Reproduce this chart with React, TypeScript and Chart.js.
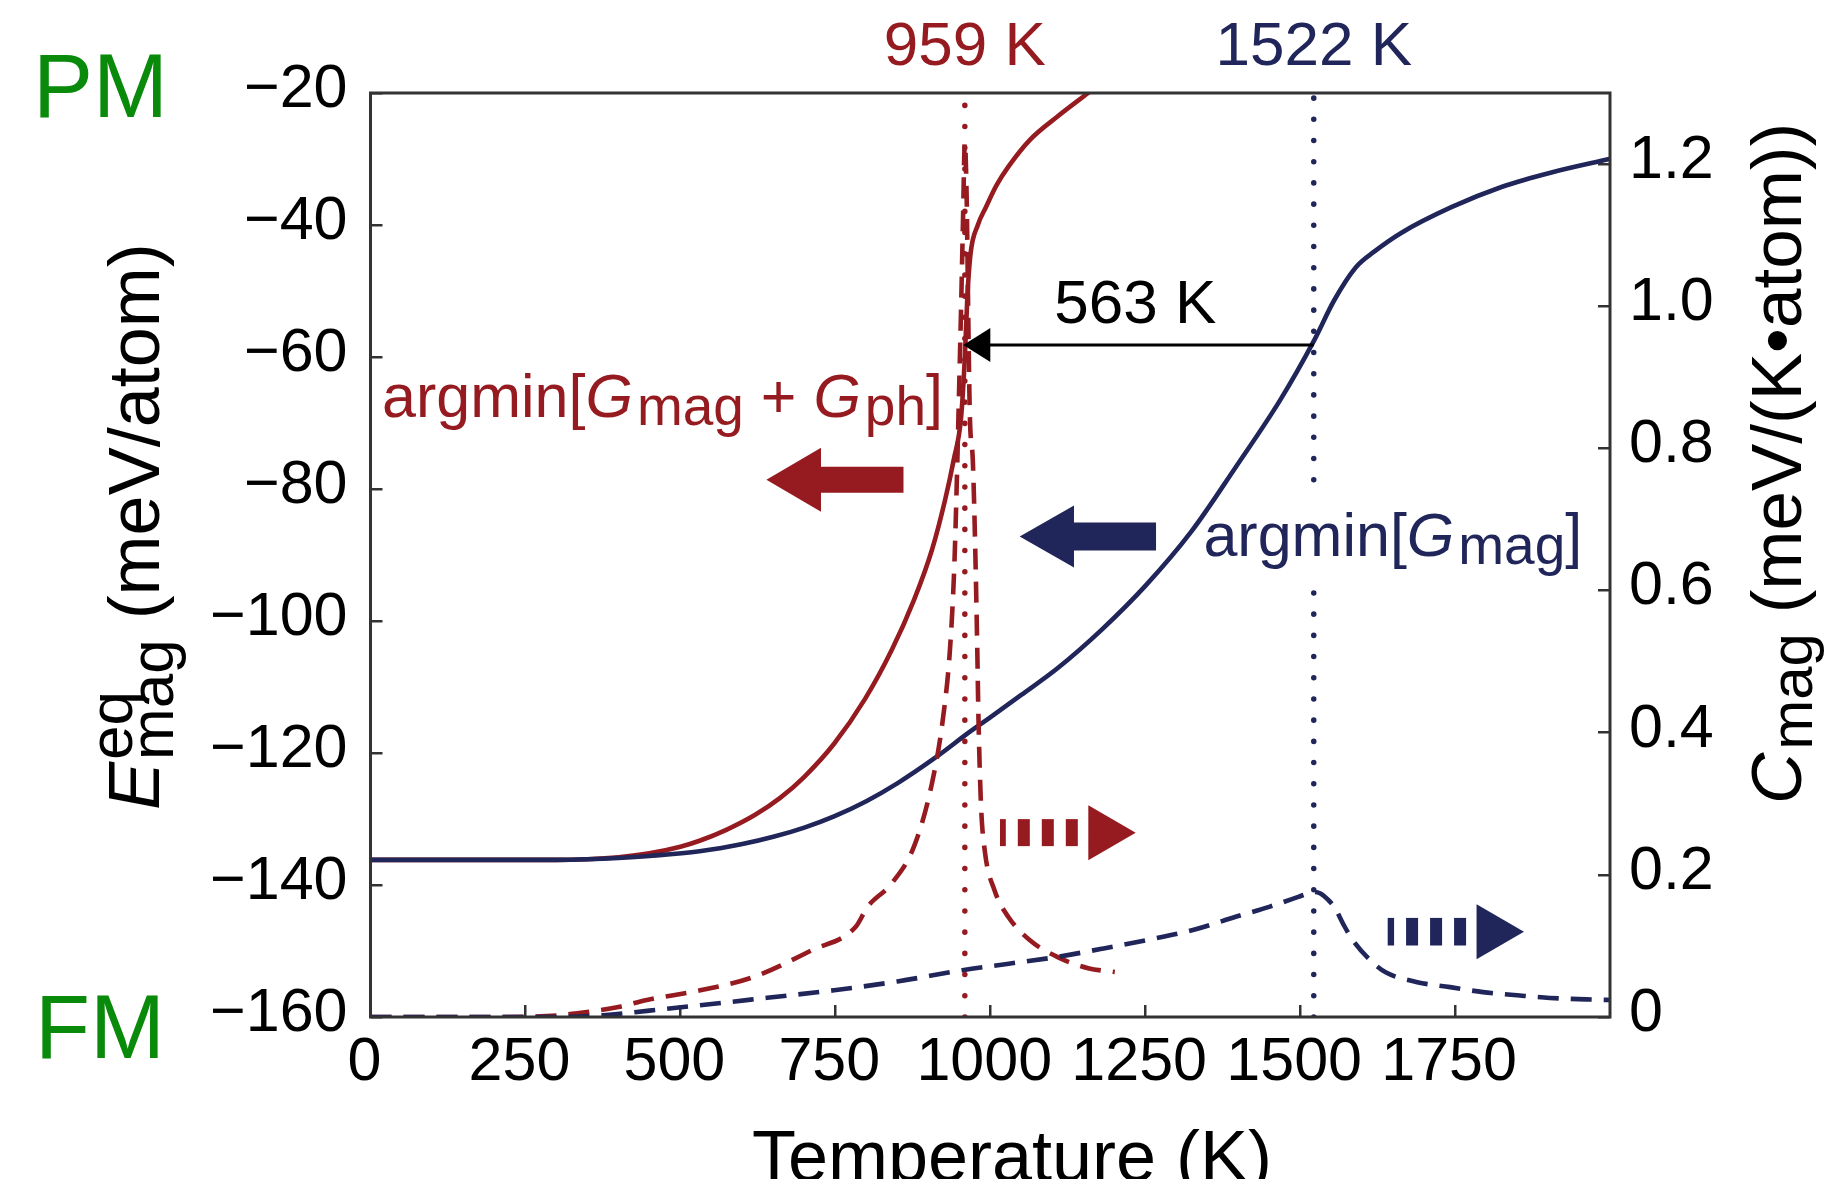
import React, { useEffect, useRef } from 'react';
import { Chart, registerables } from 'chart.js';

Chart.register(...registerables);

// ---------------- data ----------------
const T_RED_SOLID = [0, 100, 200, 300, 350, 400, 450, 500, 531, 575, 620, 661, 700, 748, 798, 841, 877, 906, 927, 941, 953, 959, 963, 968, 980, 993, 1010, 1029, 1064, 1108, 1158, 1200];
const E_RED_SOLID = [-136.2, -136.2, -136.2, -136.2, -136.1, -135.8, -135.2, -134.2, -133.3, -131.6, -129.4, -126.8, -123.6, -118.6, -111.8, -104.4, -96.8, -89.2, -81.7, -75.6, -69.1, -60.0, -51.0, -44.5, -40.0, -37.3, -34.0, -31.2, -27.1, -23.6, -20.0, -17.0];

const T_BLUE_SOLID = [0, 100, 200, 300, 350, 400, 450, 531, 600, 650, 700, 748, 800, 850, 913, 964, 1000, 1050, 1108, 1180, 1251, 1324, 1396, 1468, 1522, 1555, 1590, 1620, 1663, 1744, 1826, 1907, 1999];
const E_BLUE_SOLID = [-136.2, -136.2, -136.2, -136.2, -136.1, -135.9, -135.6, -134.9, -133.8, -132.7, -131.3, -129.6, -127.3, -124.6, -120.6, -117.0, -114.6, -111.2, -107.2, -101.3, -94.6, -86.5, -76.7, -66.5, -57.6, -51.4, -46.4, -44.0, -41.2, -37.3, -34.2, -32.0, -30.0];

const T_RED_DASHED = [0, 200, 300, 331, 400, 446, 532, 618, 712, 783, 802, 841, 877, 906, 924, 935, 942, 946, 950, 953, 956, 959, 962, 964, 967, 972, 976, 979, 981, 985, 991, 1007, 1029, 1064, 1108, 1158, 1201];
const C_RED_DASHED = [0, 0, 0.002, 0.005, 0.014, 0.024, 0.0375, 0.0563, 0.094, 0.127, 0.155, 0.188, 0.24, 0.329, 0.422, 0.517, 0.634, 0.752, 0.892, 1.0, 1.12, 1.23, 1.15, 1.02, 0.85, 0.78, 0.65, 0.52, 0.42, 0.3, 0.235, 0.178, 0.141, 0.108, 0.0845, 0.0686, 0.0634];

const T_BLUE_DASHED = [0, 300, 375, 450, 532, 640, 748, 850, 955, 1030, 1108, 1180, 1251, 1330, 1396, 1450, 1497, 1510, 1522, 1532, 1545, 1555, 1570, 1585, 1613, 1638, 1689, 1742, 1795, 1850, 1903, 1973, 1999];
const C_BLUE_DASHED = [0, 0, 0.0024, 0.009, 0.0165, 0.027, 0.0376, 0.05, 0.0658, 0.075, 0.0845, 0.096, 0.108, 0.123, 0.141, 0.155, 0.169, 0.173, 0.176, 0.174, 0.165, 0.155, 0.13, 0.108, 0.08, 0.063, 0.049, 0.042, 0.035, 0.0306, 0.0268, 0.0245, 0.024];

// transition temperatures (K) and vertical marker lines
const TC_RED = 959;
const TC_BLUE = 1522;
const VLINE_RED_E = [-160, -20];
const VLINE_BLUE_E = [-160, -95, null, -78.6, -20];
const SHIFT_E = -58.2;

const X_TICKS = [0, 250, 500, 750, 1000, 1250, 1500, 1750];
const Y_TICKS = [-160, -140, -120, -100, -80, -60, -40, -20];
const Y1_TICKS = [0, 0.2, 0.4, 0.6, 0.8, 1.0, 1.2];

// ---------------- style ----------------
const RED = '#961B20';
const NAVY = '#20255A';
const GREEN = '#0A8A0A';
const FRAME = '#333333';
const FONT = "'Liberation Sans', Arial, Helvetica, sans-serif";

// annotation anchors (data coordinates)
const ANN = {
  redLabel: { t: 18.6, e: -69.1 },
  blueLabel: { t: 1344, e: -90.15 },
  shiftLabel: { t: 1234, e: -54.9 },
  redArrow: { tail: 860, tip: 638.8, e: -78.6 },
  blueArrow: { tail: 1267.5, tip: 1047.5, e: -87.2 },
  redDashArrow: { tail: 1015.7, tip: 1234.7, c: 0.2594 },
  blueDashArrow: { tail: 1641.3, tip: 1861.2, c: 0.12 },
};

type Seg = { t: string; size: number; italic?: boolean; dy?: number; gap?: number; stack?: boolean };
const fontStr = (s: Seg) => `${s.italic ? 'italic ' : ''}${s.size}px ${FONT}`;

function segsWidth(ctx: CanvasRenderingContext2D, segs: Seg[]) {
  let w = 0;
  for (const s of segs) {
    ctx.font = fontStr(s);
    if (!s.stack) w += ctx.measureText(s.t).width + (s.gap || 0);
  }
  return w;
}

function drawSegs(ctx: CanvasRenderingContext2D, segs: Seg[], x: number, y: number, color: string, align: 'left' | 'center' = 'left') {
  ctx.save();
  ctx.fillStyle = color;
  ctx.textBaseline = 'alphabetic';
  ctx.textAlign = 'left';
  let cx = align === 'center' ? x - segsWidth(ctx, segs) / 2 : x;
  for (const s of segs) {
    ctx.font = fontStr(s);
    ctx.fillText(s.t, cx, y + (s.dy || 0));
    if (!s.stack) cx += ctx.measureText(s.t).width + (s.gap || 0);
  }
  ctx.restore();
}

function fatArrow(ctx: CanvasRenderingContext2D, xTail: number, xTip: number, yc: number, color: string,
  headLen: number, headHalf: number, shaftHalf: number, dashed: boolean) {
  const sgn = xTip > xTail ? 1 : -1;
  const headBack = xTip - sgn * headLen;
  ctx.save();
  ctx.fillStyle = color;
  if (!dashed) {
    ctx.beginPath();
    ctx.moveTo(xTail, yc - shaftHalf);
    ctx.lineTo(headBack, yc - shaftHalf);
    ctx.lineTo(headBack, yc - headHalf);
    ctx.lineTo(xTip, yc);
    ctx.lineTo(headBack, yc + headHalf);
    ctx.lineTo(headBack, yc + shaftHalf);
    ctx.lineTo(xTail, yc + shaftHalf);
    ctx.closePath();
    ctx.fill();
  } else {
    ctx.beginPath();
    ctx.moveTo(headBack, yc - headHalf);
    ctx.lineTo(xTip, yc);
    ctx.lineTo(headBack, yc + headHalf);
    ctx.closePath();
    ctx.fill();
    const dash = 12, period = 24;
    let end = headBack - sgn * 10.5;
    for (let k = 0; k < 20; k++) {
      const a = end - sgn * dash;
      const lo = Math.min(a, end), hi = Math.max(a, end);
      const cLo = Math.max(lo, Math.min(xTail, headBack));
      const cHi = Math.min(hi, Math.max(xTail, headBack));
      if (cHi > cLo) ctx.fillRect(cLo, yc - shaftHalf, cHi - cLo, shaftHalf * 2);
      end -= sgn * period;
      if ((sgn > 0 && end < xTail) || (sgn < 0 && end > xTail)) break;
    }
  }
  ctx.restore();
}

const overlay = {
  id: 'overlay',
  afterDatasetsDraw(chart: any) {
    const { ctx, chartArea: ca, scales } = chart;
    const xs = scales.x, ys = scales.y, y1 = scales.y1;
    const X = (v: number) => xs.getPixelForValue(v);
    const Y = (v: number) => ys.getPixelForValue(v);
    const Y1 = (v: number) => y1.getPixelForValue(v);

    ctx.save();
    // frame
    ctx.strokeStyle = FRAME;
    ctx.lineWidth = 3;
    ctx.strokeRect(ca.left, ca.top, ca.right - ca.left, ca.bottom - ca.top);

    // 563 K shift arrow
    const xa = X(TC_BLUE), xb = X(TC_RED) - 1.5, ya = Y(SHIFT_E);
    ctx.strokeStyle = '#000';
    ctx.fillStyle = '#000';
    ctx.lineWidth = 3;
    ctx.beginPath();
    ctx.moveTo(xa, ya);
    ctx.lineTo(xb + 20, ya);
    ctx.stroke();
    ctx.beginPath();
    ctx.moveTo(xb, ya);
    ctx.lineTo(xb + 27, ya - 17);
    ctx.lineTo(xb + 27, ya + 17);
    ctx.closePath();
    ctx.fill();

    // fat arrows
    fatArrow(ctx, X(ANN.redArrow.tail), X(ANN.redArrow.tip), Y(ANN.redArrow.e), RED, 54.6, 32, 13, false);
    fatArrow(ctx, X(ANN.blueArrow.tail), X(ANN.blueArrow.tip), Y(ANN.blueArrow.e), NAVY, 54.3, 31, 14, false);
    fatArrow(ctx, X(ANN.redDashArrow.tail), X(ANN.redDashArrow.tip), Y1(ANN.redDashArrow.c), RED, 47.4, 27.5, 13.5, true);
    fatArrow(ctx, X(ANN.blueDashArrow.tail), X(ANN.blueDashArrow.tip), Y1(ANN.blueDashArrow.c), NAVY, 47.4, 27.5, 13.8, true);

    // labels
    drawSegs(ctx, [{ t: `${TC_RED} K`, size: 62 }], X(TC_RED), ca.top - 28, RED, 'center');
    drawSegs(ctx, [{ t: `${TC_BLUE} K`, size: 62 }], X(TC_BLUE), ca.top - 28, NAVY, 'center');
    drawSegs(ctx, [{ t: `${TC_BLUE - TC_RED} K`, size: 62 }], X(ANN.shiftLabel.t), Y(ANN.shiftLabel.e), '#000', 'center');

    drawSegs(ctx, [
      { t: 'argmin[', size: 61 },
      { t: 'G', size: 61, italic: true, gap: 4 },
      { t: 'mag', size: 55, dy: 8 },
      { t: ' + ', size: 61 },
      { t: 'G', size: 61, italic: true, gap: 4 },
      { t: 'ph', size: 55, dy: 8 },
      { t: ']', size: 61 },
    ], X(ANN.redLabel.t), Y(ANN.redLabel.e), RED);

    drawSegs(ctx, [
      { t: 'argmin[', size: 61 },
      { t: 'G', size: 61, italic: true, gap: 4 },
      { t: 'mag', size: 55, dy: 8 },
      { t: ']', size: 61 },
    ], X(ANN.blueLabel.t), Y(ANN.blueLabel.e), NAVY);

    // PM / FM
    drawSegs(ctx, [{ t: 'PM', size: 90 }], 33, ca.top + 24, GREEN);
    drawSegs(ctx, [{ t: 'FM', size: 90 }], 35, ca.bottom + 41, GREEN);

    // x title
    drawSegs(ctx, [{ t: 'Temperature (K)', size: 72 }], 1012, ca.bottom + 164, '#000', 'center');

    // left title
    ctx.save();
    ctx.translate(158.5, 810);
    ctx.rotate(-Math.PI / 2);
    drawSegs(ctx, [
      { t: 'E', size: 72, italic: true, gap: 2 },
      { t: 'eq', size: 62, dy: -27, stack: true },
      { t: 'mag', size: 62, dy: 14 },
      { t: ' (meV/atom)', size: 72 },
    ], 0, 0, '#000');
    ctx.restore();

    // right title
    ctx.save();
    ctx.translate(1801, 804);
    ctx.rotate(-Math.PI / 2);
    drawSegs(ctx, [
      { t: 'C', size: 71, italic: true, gap: 3 },
      { t: 'mag', size: 60, dy: 11 },
      { t: ' (meV/(K\u2022atom))', size: 71 },
    ], 0, 0, '#000');
    ctx.restore();

    ctx.restore();
  },
};

const pts = (xs: number[], ys: (number | null)[]) => xs.map((x, i) => ({ x, y: ys[i] }));

export default function App() {
  const ref = useRef<HTMLCanvasElement | null>(null);
  useEffect(() => {
    if (!ref.current) return;
    const tickFont = { family: FONT, size: 61 };
    const gridCommon = { drawOnChartArea: false, drawTicks: true, tickLength: -12, color: FRAME, lineWidth: 2.5 };
    const chart = new Chart(ref.current, {
      type: 'line',
      data: {
        datasets: [
          {
            data: pts(VLINE_RED_E.map(() => TC_RED), VLINE_RED_E) as any,
            yAxisID: 'y', borderColor: RED, borderWidth: 5.5, borderDash: [0.1, 21.1], borderCapStyle: 'round',
            pointRadius: 0, fill: false, tension: 0,
          },
          {
            data: pts(VLINE_BLUE_E.map(() => TC_BLUE), VLINE_BLUE_E) as any,
            yAxisID: 'y', borderColor: NAVY, borderWidth: 5.5, borderDash: [0.1, 21.1], borderCapStyle: 'round',
            pointRadius: 0, fill: false, tension: 0, spanGaps: false,
          },
          {
            data: pts(T_BLUE_DASHED, C_BLUE_DASHED) as any,
            yAxisID: 'y1', borderColor: NAVY, borderWidth: 4.6, borderDash: [21, 12],
            pointRadius: 0, fill: false, cubicInterpolationMode: 'monotone',
          },
          {
            data: pts(T_RED_DASHED, C_RED_DASHED) as any,
            yAxisID: 'y1', borderColor: RED, borderWidth: 4.6, borderDash: [21, 12],
            pointRadius: 0, fill: false, cubicInterpolationMode: 'monotone',
          },
          {
            data: pts(T_BLUE_SOLID, E_BLUE_SOLID) as any,
            yAxisID: 'y', borderColor: NAVY, borderWidth: 4.6,
            pointRadius: 0, fill: false, cubicInterpolationMode: 'monotone',
          },
          {
            data: pts(T_RED_SOLID, E_RED_SOLID) as any,
            yAxisID: 'y', borderColor: RED, borderWidth: 4.6,
            pointRadius: 0, fill: false, cubicInterpolationMode: 'monotone',
          },
        ],
      },
      options: {
        responsive: false,
        animation: false,
        devicePixelRatio: 1,
        events: [],
        layout: { padding: { top: 93, left: 0, right: 0, bottom: 0 } },
        plugins: { legend: { display: false }, tooltip: { enabled: false }, title: { display: false } },
        scales: {
          x: {
            type: 'linear', position: 'bottom', min: 0, max: 2000,
            afterBuildTicks: (s: any) => { s.ticks = X_TICKS.map((v) => ({ value: v })); },
            afterFit: (s: any) => { s.height = 162; },
            grid: gridCommon as any,
            border: { display: false },
            ticks: {
              padding: 22, font: tickFont, color: '#000', maxRotation: 0, autoSkip: false, labelOffset: -6,
              callback: (v: any) => String(v),
            },
          },
          y: {
            type: 'linear', position: 'left', min: -160, max: -20,
            afterBuildTicks: (s: any) => { s.ticks = Y_TICKS.map((v) => ({ value: v })); },
            afterFit: (s: any) => { s.width = 370.5; },
            grid: gridCommon as any,
            border: { display: false },
            ticks: {
              padding: 35, font: tickFont, color: '#000', labelOffset: -3, autoSkip: false,
              callback: (v: any) => (v < 0 ? '\u2212' + Math.abs(v) : String(v)),
            },
          },
          y1: {
            type: 'linear', position: 'right', min: 0, max: 1.3,
            afterBuildTicks: (s: any) => { s.ticks = Y1_TICKS.map((v) => ({ value: v })); },
            afterFit: (s: any) => { s.width = 217; },
            grid: gridCommon as any,
            border: { display: false },
            ticks: {
              padding: 31, font: tickFont, color: '#000', labelOffset: -3, autoSkip: false,
              callback: (v: any) => (Number(v) === 0 ? '0' : Number(v).toFixed(1)),
            },
          },
        },
      },
      plugins: [overlay as any],
    });
    return () => chart.destroy();
  }, []);

  return (
    <div style={{ position: 'fixed', left: 0, top: 0, width: 1827, height: 1179, background: '#fff' }}>
      <canvas ref={ref} width={1827} height={1179} style={{ width: 1827, height: 1179, display: 'block' }} />
    </div>
  );
}
